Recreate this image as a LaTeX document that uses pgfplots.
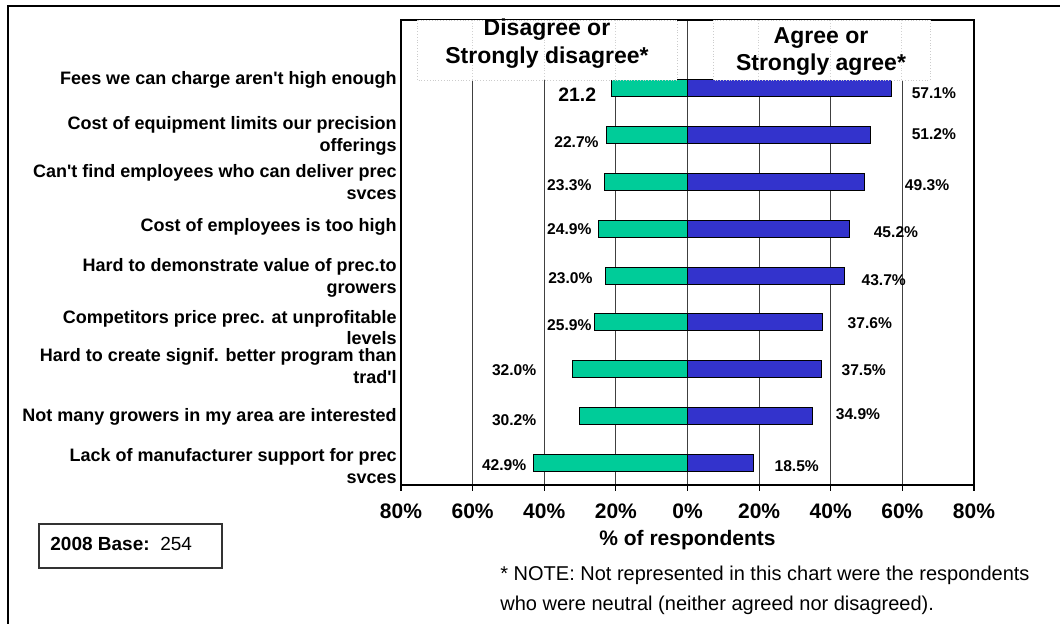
\documentclass[border=0pt]{standalone}
\usepackage{pgfplots}
\pgfplotsset{compat=1.18}
\usepackage{fontspec}
\setmainfont{Liberation Sans}
\definecolor{disagr}{HTML}{00CC99}
\definecolor{agr}{HTML}{3333CC}
\definecolor{gridc}{HTML}{404040}
\newcommand{\q}{\textquotesingle}

\begin{document}
\begin{tikzpicture}
\useasboundingbox (0,0) rectangle (530pt,-312pt);
\begin{axis}[
  at={(200.5pt,-242.5pt)}, anchor=south west,
  scale only axis, width=286.5pt, height=232.5pt,
  xbar, bar width=8.5pt,
  xmin=-80, xmax=80, ymin=0.535, ymax=10.45,
  xtick={-80,-60,...,80},
  xticklabels={80\%,60\%,40\%,20\%,0\%,20\%,40\%,60\%,80\%},
  ytick=\empty,
  xmajorgrids, major grid style={line width=0.6pt, gridc},
  axis line style={line width=0.9pt},
  tick align=outside, xtick pos=bottom, major tick length=3pt,
  tick style={line width=0.6pt, black},
  xticklabel style={font=\fontsize{10.5}{12}\selectfont\bfseries, yshift=-3pt},
  clip=false,
  every axis plot/.append style={bar shift=0pt, draw=black, line width=0.5pt},
]
\addplot[fill=disagr] coordinates {
  (-42.9,1) (-30.2,2) (-32.0,3) (-25.9,4) (-23.0,5) (-24.9,6) (-23.3,7) (-22.7,8) (-21.2,9)};
\addplot[fill=agr] coordinates {
  (18.5,1) (34.9,2) (37.5,3) (37.6,4) (43.7,5) (45.2,6) (49.3,7) (51.2,8) (57.1,9)};

% category labels
\begin{scope}[every node/.style={anchor=east, align=right, inner sep=0pt, xshift=-2pt,
    font=\fontsize{9}{10.75}\selectfont\bfseries}]
\node at (axis cs:-80,9.17) {Fees we can charge aren\q t high enough};
\node at (axis cs:-80,7.98) {Cost of equipment limits our precision\\offerings};
\node at (axis cs:-80,6.99) {Can\q t find employees who can deliver prec\\svces};
\node at (axis cs:-80,6.04) {Cost of employees is too high};
\node at (axis cs:-80,4.95) {Hard to demonstrate value of prec.to\\growers};
\node at (axis cs:-80,3.89) {Competitors price prec. at unprofitable\\levels};
\node at (axis cs:-80,3.07) {Hard to create signif. better program than\\trad\q l};
\node at (axis cs:-80,1.99) {Not many growers in my area are interested};
\node at (axis cs:-80,0.94) {Lack of manufacturer support for prec\\svces};
\end{scope}

% value labels
\begin{scope}[every node/.style={inner sep=0pt, font=\fontsize{7.8}{9}\selectfont\bfseries}]
\node[font=\fontsize{9.7}{11}\selectfont\bfseries] at (axis cs:-30.8,8.85) {21.2};
\node at (axis cs:-31.0,7.85) {22.7\%};
\node at (axis cs:-33.0,6.93) {23.3\%};
\node at (axis cs:-33.0,5.99) {24.9\%};
\node at (axis cs:-32.7,4.95) {23.0\%};
\node at (axis cs:-33.0,3.95) {25.9\%};
\node at (axis cs:-48.4,2.99) {32.0\%};
\node at (axis cs:-48.4,1.92) {30.2\%};
\node at (axis cs:-51.2,0.96) {42.9\%};
\node at (axis cs:68.8,8.89) {57.1\%};
\node at (axis cs:68.8,8.02) {51.2\%};
\node at (axis cs:66.9,6.93) {49.3\%};
\node at (axis cs:58.2,5.93) {45.2\%};
\node at (axis cs:54.8,4.91) {43.7\%};
\node at (axis cs:50.9,3.99) {37.6\%};
\node at (axis cs:49.2,2.99) {37.5\%};
\node at (axis cs:47.6,2.05) {34.9\%};
\node at (axis cs:30.5,0.94) {18.5\%};
\end{scope}
\node[font=\fontsize{10.5}{12}\selectfont\bfseries] at (axis cs:0,0.535) [yshift=-27.5pt] {\% of respondents};
\end{axis}

\begin{scope}[x=0.5pt, y=-0.5pt]
% outer frame
\draw[line width=1pt] (8,624) -- (8,6) -- (1060,6);
% title boxes
\draw[densely dotted, black!20, fill=white] (417,20) rectangle (677,80);
\draw[densely dotted, black!20, fill=white] (713,20) rectangle (930,80);
\foreach \gx in {472.6,544.1,615.6,758.5,830,901.5}
  \draw[densely dotted, black!18] (\gx,20) -- (\gx,80);
\node[font=\fontsize{11.5}{14}\selectfont\bfseries, align=center] at (547,44) {Disagree or\\Strongly disagree*};
\node[font=\fontsize{11.5}{13.5}\selectfont\bfseries, align=center] at (821,51.5) {Agree or\\Strongly agree*};
% note
\node[anchor=west, align=left, inner sep=0pt, font=\fontsize{10}{15}\selectfont] at (500,590)
  {* NOTE: Not represented in this chart were the respondents\\who were neutral (neither agreed nor disagreed).};
% base box
\draw[line width=0.6pt, black!80] (39,524) rectangle (222,568);
\node[anchor=west, inner sep=0pt, font=\fontsize{9.5}{11}\selectfont] at (50,544) {\textbf{2008 Base:}\ \ 254};
\end{scope}
\end{tikzpicture}
\end{document}
